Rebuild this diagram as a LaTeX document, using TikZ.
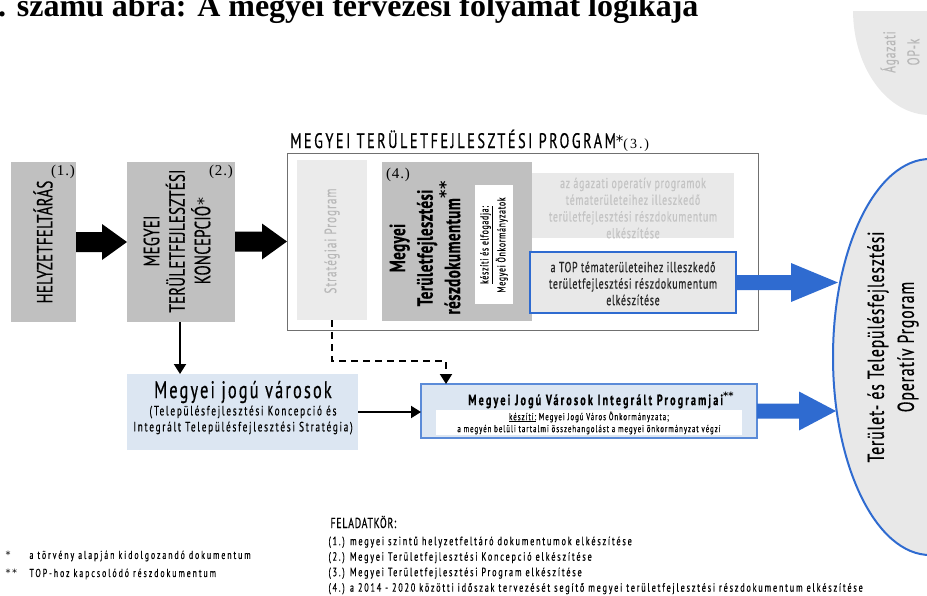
\documentclass[tikz,border=0pt]{standalone}
\usepackage{fontspec}
\setmainfont{PT Sans}[FakeStretch=0.68]
\newfontfamily\cf[FakeStretch=0.68,FakeBold=0.5]{PT Sans}
\newfontfamily\serifn[LetterSpace=6]{Liberation Serif}
\newfontfamily\serift{Liberation Serif}
\newfontfamily\astf{DejaVu Sans}
\usetikzlibrary{shapes.geometric,arrows.meta,calc}
\definecolor{boxgray}{HTML}{C0C0C0}
\definecolor{palegray}{HTML}{EBEBEB}
\definecolor{paletext}{HTML}{B8B8B8}
\definecolor{agfill}{HTML}{E9E9E9}
\definecolor{agtext}{HTML}{C4C4C4}
\definecolor{bluel}{HTML}{2F6BD0}
\definecolor{blueb}{HTML}{5B8BD8}
\definecolor{lightblue}{HTML}{DCE6F2}
\definecolor{ellfill}{HTML}{E8E8E8}
\definecolor{framegray}{HTML}{707070}
\newcommand\blockarrow[6]{%
  \fill[#1] let \p1=#2, \p2=#3 in
    (\x1,\y2+#5) -- (\x2-#4,\y2+#5) -- (\x2-#4,\y2+#6) -- (\x2,\y2)
    -- (\x2-#4,\y2-#6) -- (\x2-#4,\y2-#5) -- (\x1,\y2-#5) -- cycle;}
\newcommand\fs[2]{\fontsize{#1}{#2}\selectfont}
\newcommand\lsp[1]{\addfontfeature{LetterSpace=#1}}
\newcommand\st{{\astf *}}
\begin{document}
\begin{tikzpicture}[x=1pt,y=-1pt,
  box/.style={rectangle,inner sep=0pt,outer sep=0pt,anchor=north west},
  lab/.style={font=\serifn\fs{15}{15}},
  conn/.style={line width=2pt,-{Triangle[length=10pt,width=12pt]}},
  dashconn/.style={line width=2pt,dash pattern=on 7pt off 5pt,-{Triangle[length=10pt,width=12pt]}}]
\clip (0,0) rectangle (927,595);
\useasboundingbox (0,0) rectangle (927,595);
% title (cut at top)
\node[anchor=base west,inner sep=0pt,font=\serift\bfseries\fs{32}{32}] (title) at (-18,16) {3. számú ábra: A megyei tervezési folyamat logikája};
% Agazati OP-k
\begin{scope}
\clip (840,11) rectangle (927,130);
\node[ellipse,fill=agfill,minimum width=154,minimum height=210,inner sep=0pt] (agazati) at (930,10) {};
\end{scope}
\node[rotate=90,align=center,text=paletext,font={\cf\lsp{5}\fs{17}{24}}] (agtxt) at (900,52) {Ágazati\\OP-k};
% boxes
\node[box,fill=boxgray,minimum width=65,minimum height=160] (b1) at (11,162) {};
\node[rotate=90,font={\cf\lsp{1}\fs{22}{22}}] (t1) at (43,242) {HELYZETFELTÁRÁS};
\node[lab] (l1) at (63,172) {(1.)};
\node[box,fill=boxgray,minimum width=108,minimum height=160] (b2) at (127,162) {};
\node[rotate=90,align=center,font={\cf\lsp{1}\fs{22}{25.5}}] (t2) at (177,241) {MEGYEI\\TERÜLETFEJLESZTÉSI\\KONCEPCIÓ\raisebox{1pt}{\fs{16}{16}\st}};
\node[lab] (l2) at (221,172) {(2.)};
\node[box,draw=framegray,line width=1pt,minimum width=471,minimum height=177] (prog) at (287,153) {};
\node[anchor=base west,inner sep=0pt,font={\cf\lsp{12}\fs{21}{21}}] (progt) at (290,148) {MEGYEI TERÜLETFEJLESZTÉSI PROGRAM\raisebox{2pt}{\fs{15}{15}\st}{\serifn\lsp{14}\fs{14}{14}(3.)}};
\node[box,fill=palegray,minimum width=70,minimum height=160] (strat) at (297,160) {};
\node[rotate=90,text=paletext,font={\cf\lsp{6}\fs{16.5}{16.5}}] (strt) at (332,241) {Stratégiai Program};
\node[box,fill=boxgray,minimum width=150,minimum height=159] (b4) at (382,162) {};
\node[lab] (l4) at (398,175) {(4.)};
\node[rotate=90,align=center,font={\cf\bfseries\lsp{2}\fs{22}{27.5}}] (t4) at (425,248) {Megyei\\Területfejlesztési\\részdokumentum\raisebox{9pt}{\fs{16}{16}\st\st}};
\node[box,fill=white,minimum width=38,minimum height=119] (inner) at (475,185) {};
\node[rotate=90,align=center,font={\cf\lsp{6}\fs{11.5}{17}}] (innert) at (494,245) {\underline{készíti és elfogadja:}\\Megyei Önkormányzatok};
\node[box,fill=agfill,minimum width=202,minimum height=65] (agbox) at (532,173) {};
\node[align=center,text=agtext,font={\cf\lsp{5}\fs{14.5}{16.7}}] (agboxt) at (633,208) {az ágazati operatív programok\\tématerületeihez illeszkedő\\területfejlesztési részdokumentum\\elkészítése};
\node[box,fill=ellfill,draw=bluel,line width=2pt,minimum width=206,minimum height=61] (topbox) at (530,252) {};
\node[align=center,text=black!85,font={\cf\lsp{5}\fs{14.5}{16.5}}] (topt) at (633,283.5) {a TOP tématerületeihez illeszkedő\\területfejlesztési részdokumentum\\elkészítése};
\node[box,fill=lightblue,minimum width=231,minimum height=76] (mjvar) at (127,374) {};
\node[align=center,font={\cf\lsp{9}\fs{24}{24}}] (mjvart) at (243,392) {Megyei jogú városok};
\node[align=center,font={\cf\lsp{13}\fs{13.5}{16}}] (mjvars) at (243,420) {(Településfejlesztési Koncepció és\\Integrált Településfejlesztési Stratégia)};
\node[box,fill=lightblue,draw=blueb,line width=1.5pt,minimum width=336,minimum height=54] (mjv) at (421,384) {};
\node[font={\cf\bfseries\lsp{14}\fs{15}{15}}] (mjvt) at (601,400) {Megyei Jogú Városok Integrált Programjai\raisebox{6pt}{\fs{10}{10}\st\st}};
\node[box,fill=white,minimum width=306,minimum height=25] (mjvin) at (436,410) {};
\node[align=center,font={\cf\lsp{10}\fs{10}{12}}] (mjvint) at (589,423) {\underline{készíti:} Megyei Jogú Város Önkormányzata;\\a megyén belüli tartalmi összehangolást a megyei önkormányzat végzi};
\node[ellipse,fill=ellfill,draw=bluel,line width=2pt,minimum width=194,minimum height=396,inner sep=0pt] (ell) at (930,357) {};
\node[rotate=90,align=center,font={\cf\lsp{4}\fs{23}{30}}] (ellt) at (893,347) {Terület- és Településfejlesztési\\Operatív Prgoram};
% block arrows
\blockarrow{black}{(b1.east)}{(b2.west)}{25pt}{10pt}{18pt}
\blockarrow{black}{(b2.east)}{(prog.west)}{25pt}{10pt}{18pt}
\blockarrow{bluel}{(topbox.east)}{($(topbox.east)+(102,0)$)}{47pt}{7.5pt}{19.5pt}
\blockarrow{bluel}{(mjv.east)}{($(mjv.east)+(79,0)$)}{37pt}{7.5pt}{19.5pt}
% connectors
\draw[conn] (b2.south -| 180,0) -- (mjvar.north -| 180,0);
\draw[conn] (mjvar.east) -- (mjvar.east -| mjv.west);
\draw[dashconn] (strat.south) -- ++(0,41) -| ([xshift=25pt]mjv.north west);
% legend
\node[anchor=west,font={\fs{10}{10}}] (s1) at (2,555) {\st};
\node[anchor=west,font={\cf\lsp{17}\fs{11.5}{11.5}}] (n1) at (26,556) {a törvény alapján kidolgozandó dokumentum};
\node[anchor=west,font={\fs{10}{10}}] (s2) at (2,573) {\st\,\st};
\node[anchor=west,font={\cf\lsp{17}\fs{11.5}{11.5}}] (n2) at (26,574) {TOP-hoz kapcsolódó részdokumentum};
\node[anchor=west,font={\cf\lsp{5}\fs{14.5}{14.5}}] (fk) at (327,522) {FELADATKÖR:};
\node[anchor=north west,align=left,font={\cf\lsp{15}\fs{12}{15.5}}] (fkl) at (325,533) {(1.) megyei szintű helyzetfeltáró dokumentumok elkészítése\\(2.) Megyei Területfejlesztési Koncepció elkészítése\\(3.) Megyei Területfejlesztési Program elkészítése\\(4.) a 2014 - 2020 közötti időszak tervezését segítő megyei területfejlesztési részdokumentum elkészítése};
\end{tikzpicture}
\end{document}
